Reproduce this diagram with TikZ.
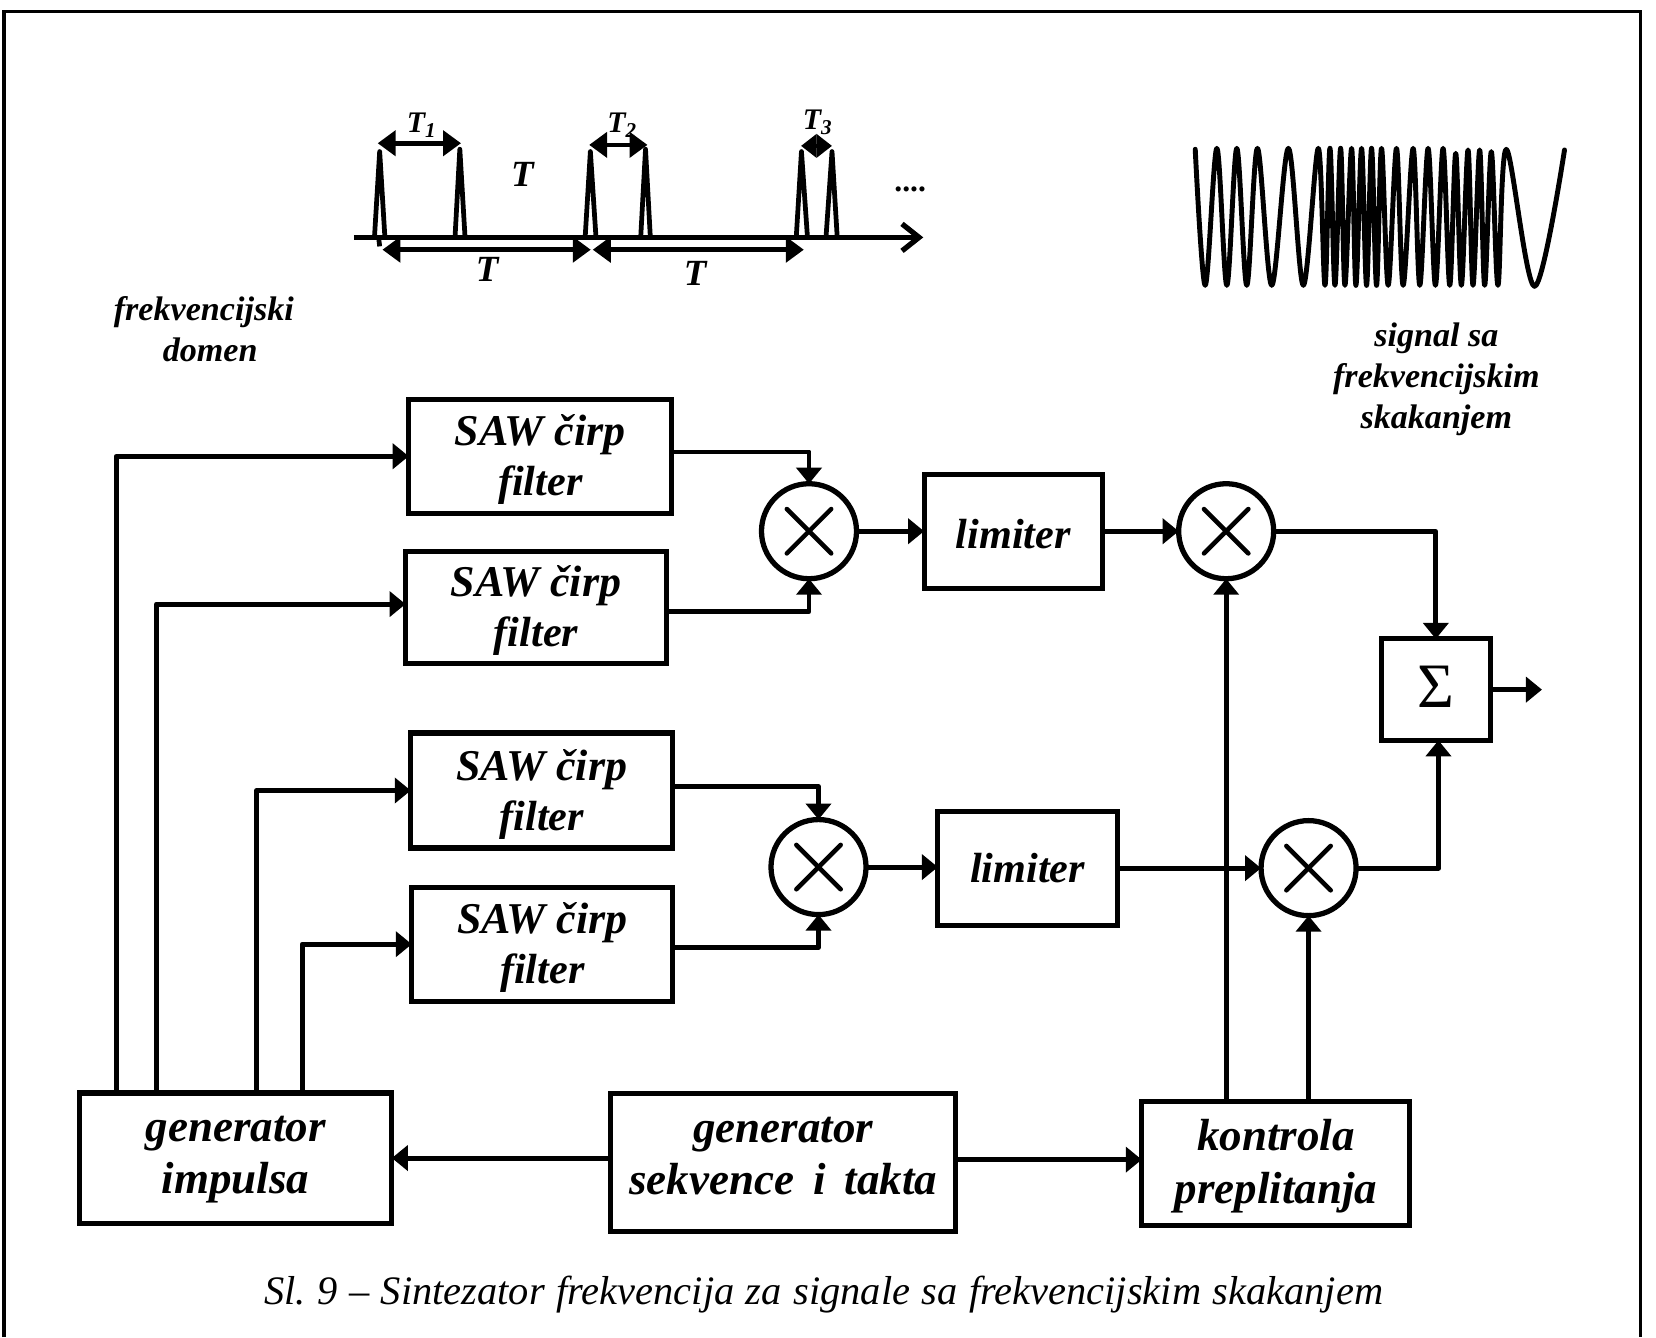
\documentclass[tikz,border=0pt]{standalone}
\usepackage{fontspec}
\setmainfont{Liberation Serif}
\usetikzlibrary{arrows.meta,calc}
\tikzset{
  blk/.style={draw,line width=1.45pt,outer sep=0pt,inner sep=0pt,align=center,font=\fontsize{12}{14.2}\selectfont\bfseries\itshape},
  bigblk/.style={blk,font=\fontsize{12.8}{15}\selectfont\bfseries\itshape},
  mix/.style={draw,circle,line width=1.5pt,minimum size=0.95cm,outer sep=0pt,inner sep=0pt},
  crs/.style={line width=1.3pt,line cap=round},
  conn/.style={line width=1.4pt,line join=round,-{Triangle[length=0.16cm,width=0.25cm]}},
  dim/.style={line width=1.35pt,{Triangle[length=0.18cm,width=0.25cm]}-{Triangle[length=0.18cm,width=0.25cm]}},
  dimshort/.style={line width=1.35pt,{Triangle[length=0.155cm,width=0.23cm]}-{Triangle[length=0.155cm,width=0.23cm]}},
  pulse/.style={line width=1.35pt,line join=round},
  lab/.style={font=\fontsize{9.7}{11.7}\selectfont\bfseries\itshape,align=center,inner sep=0pt},
  tlab/.style={font=\fontsize{10.5}{12}\selectfont\bfseries\itshape,inner sep=0pt},
  sublab/.style={font=\fontsize{8.5}{10}\selectfont\bfseries\itshape,inner sep=0pt}
}
\newcommand{\mixer}[3]{%
  \node[mix] (#1) at (#2,#3) {};
  \draw[crs] (#1.center)+(-21,-21) -- +(21,21);
  \draw[crs] (#1.center)+(-21,21) -- +(21,-21);
}
\newcommand{\sawtext}{\fontsize{12.5}{14.2}\selectfont\rule{0pt}{10.9pt}SAW čirp\\\fontsize{12}{14.2}\selectfont filter}
\begin{document}
\begin{tikzpicture}[x=0.010561cm,y=-0.010561cm]
\useasboundingbox (0,0) rectangle (1568,1266);
% frame
\coordinate (fa) at (3.8,1266);
\coordinate (fb) at (3.8,11);
\coordinate (fc) at (1553.6,11);
\coordinate (fd) at (1553.6,1266);
\draw[line width=0.95pt,line join=miter] (fa) -- (fb) -- (fc) -- (fd);

% boxes
\node[blk,minimum width=2.63cm,minimum height=1.14cm] (S1) at (511.5,432) {\sawtext};
\node[blk,minimum width=2.61cm,minimum height=1.12cm] (S2) at (507.5,575) {\sawtext};
\node[blk,minimum width=2.62cm,minimum height=1.15cm] (S3) at (513,748.5) {\sawtext};
\node[blk,minimum width=2.61cm,minimum height=1.14cm] (S4) at (513.5,894) {\sawtext};
\node[blk,minimum width=1.785cm,minimum height=1.14cm] (L1) at (959.5,503) {\rule{0pt}{10pt}limiter};
\node[blk,minimum width=1.795cm,minimum height=1.14cm] (L2) at (973,822) {limiter};
\node[blk,minimum width=1.088cm,minimum height=1.014cm,font=\fontsize{18}{18}\selectfont] (SUM) at (1359.5,653) {\rule[-1.8pt]{0pt}{0pt}Σ};
\node[bigblk,minimum width=3.126cm,minimum height=1.30cm] (G1) at (223,1096.5) {\rule{0pt}{8.1pt}generator\\impulsa};
\node[bigblk,minimum width=3.453cm,minimum height=1.383cm] (G2) at (741.5,1100.5) {generator\\sekvence\hspace{0.42em}i\hspace{0.42em}takta\rule[-3.6pt]{0pt}{0pt}};
\node[bigblk,minimum width=2.68cm,minimum height=1.236cm] (K) at (1208,1101.5) {\rule{0pt}{10.5pt}kontrola\\preplitanja};

% mixers
\mixer{M1}{766}{503}
\mixer{M2}{1161}{503}
\mixer{M3}{775}{821}
\mixer{M4}{1239}{822}

% pulse generator outputs
\coordinate (ga) at (110,1035);
\coordinate (gb) at (148,1035);
\coordinate (gc) at (243,1035);
\coordinate (gd) at (286,1035);
\coordinate (s2in) at (384,572);
\draw[conn] (ga) |- (S1.west);
\draw[conn] (gb) |- (s2in);
\draw[conn] (gc) |- (S3.west);
\draw[conn] (gd) |- (S4.west);

% filter outputs
\coordinate (so1) at (636,428);
\coordinate (so2) at (631,579);
\coordinate (so3) at (637,745);
\coordinate (so4) at (637,897);
\draw[conn] (so1) -| (M1.north);
\draw[conn] (so2) -| (M1.south);
\draw[conn] (so3) -| (M3.north);
\draw[conn] (so4) -| (M3.south);

\draw[conn] (M1.east) -- (L1.west);
\draw[conn] (L1.east) -- (M2.west);
\draw[conn] (M2.east) -| (SUM.north);
\draw[conn] (M3.east) -- (L2.west |- M3.east);
\draw[conn] (L2.east) -- (M4.west);
\coordinate (sumin) at (1362,701);
\draw[conn] (M4.east) -| (sumin);
\coordinate (out) at (1460,653);
\draw[conn] (SUM.east) -- (out);

\draw[conn] (M2.south |- K.north) -- (M2.south);
\draw[conn] (M4.south |- K.north) -- (M4.south);
\draw[conn] (G2.west |- G1.east) -- (G1.east);
\coordinate (gk) at (905,1098);
\draw[conn] (gk) -- (gk -| K.west);

% side labels
\node[lab] (fd1) at (193,312) {frekvencijski\\\hspace{0.37em}domen};
\node[lab] (sg1) at (1360,359) {signal sa\\frekvencijskim\\skakanjem};

% caption
\node[inner sep=0pt,font=\fontsize{11.5}{14}\selectfont\itshape] (cap) at (780,1226) {\spaceskip=0.285em Sl.\ 9 -- Sintezator frekvencija za signale sa frekvencijskim skakanjem};

% timing diagram
\begin{scope}[shift={(3.3cm,-0.9cm)},x=0.003968cm,y=-0.0033333cm]
  \coordinate (ax0) at (60,443);
  \coordinate (ax1) at (1495,443);
  \draw[line width=1.5pt,-{Straight Barb[length=0.17cm,width=0.27cm]}] (ax0) -- (ax1);
  \draw[pulse] (112,440) -- (125,185) -- (138,440);
  \draw[pulse] (122,440) -- (125,470);
  \draw[pulse] (315,440) -- (327,178) -- (340,440);
  \draw[pulse] (643,440) -- (656,185) -- (670,440);
  \draw[pulse] (783,440) -- (795,178) -- (807,440);
  \draw[pulse] (1175,440) -- (1188,185) -- (1203,440);
  \draw[pulse] (1250,440) -- (1265,185) -- (1278,440);
  \coordinate (d1a) at (120,160); \coordinate (d1b) at (330,160);
  \coordinate (d2a) at (653,165); \coordinate (d2b) at (800,165);
  \coordinate (d3a) at (1187,168); \coordinate (d3b) at (1265,168);
  \coordinate (d4a) at (132,480); \coordinate (d4b) at (657,480);
  \coordinate (d5a) at (662,480); \coordinate (d5b) at (1194,480);
  \draw[dim] (d1a) -- (d1b);
  \draw[dim] (d2a) -- (d2b);
  \draw[dimshort] (d3a) -- (d3b);
  \draw[dim] (d4a) -- (d4b);
  \draw[dim] (d5a) -- (d5b);
  \node[sublab] (t1) at (230,105) {T\raisebox{-1.5pt}{\fontsize{6}{7}\selectfont 1}};
  \node[sublab] (t2) at (735,105) {T\raisebox{-1.5pt}{\fontsize{6}{7}\selectfont 2}};
  \node[sublab] (t3) at (1228,98) {T\raisebox{-1.5pt}{\fontsize{6}{7}\selectfont 3}};
  \node[tlab] (t4) at (485,255) {T};
  \node[tlab] (t5) at (396,540) {T};
  \node[tlab] (t6) at (920,550) {T};
  \node[inner sep=0pt,font=\fontsize{9}{10}\selectfont\bfseries] (dots) at (1462,300) {....};
\end{scope}

% chirp signal
\begin{scope}[shift={(11.7cm,-1.2cm)},x=0.0033333cm,y=-0.0033333cm]
  \draw[line width=1.4pt,line join=round,line cap=round] plot[smooth,tension=0.55] coordinates {
    (75,88) (105,497) (140,85) (170,497) (200,85) (230,497) (262,85) (305,497) (355,85)
    (400,497) (445,85) (465,497) (480,85) (495,497) (512,85) (525,497) (545,85) (558,497)
    (575,85) (590,497) (605,85) (620,497) (635,85) (655,497) (680,85) (700,497) (730,85)
    (750,497) (775,85) (797,497) (820,85) (840,497) (858,100) (875,497) (895,90) (910,497)
    (930,90) (945,497) (965,95) (985,497) (1010,88) (1095,500) (1185,90)};
\end{scope}
\end{tikzpicture}
\end{document}
